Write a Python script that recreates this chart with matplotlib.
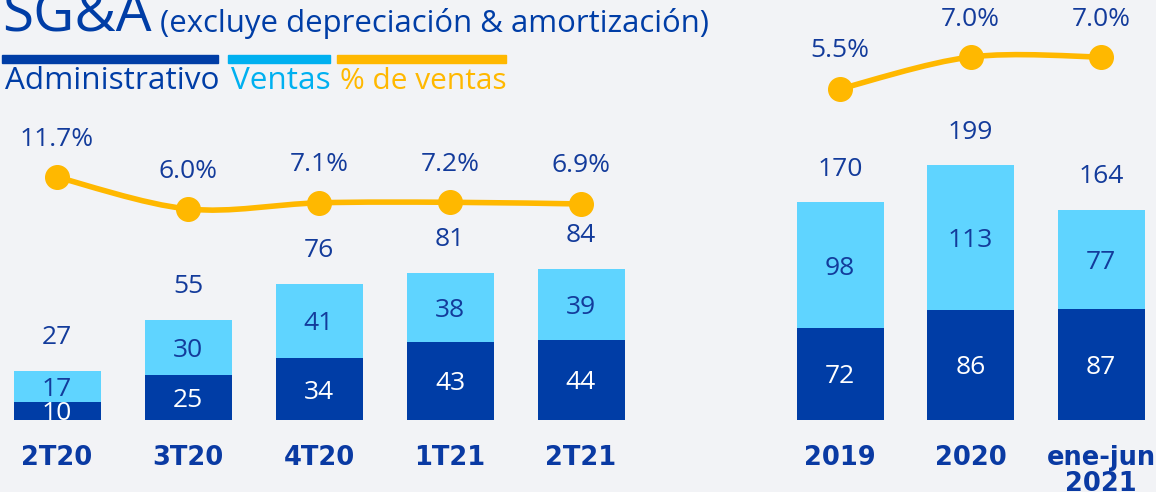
import matplotlib
matplotlib.use("Agg")
import matplotlib.pyplot as plt
from matplotlib.path import Path
from matplotlib.patches import PathPatch, Rectangle
import numpy as np

# ---- data ----
q_labels = ["2T20", "3T20", "4T20", "1T21", "2T21"]
q_admin = [10, 25, 34, 43, 44]
q_ventas = [17, 30, 41, 38, 39]
q_total = [27, 55, 76, 81, 84]
q_pct = [11.7, 6.0, 7.1, 7.2, 6.9]

y_labels = ["2019", "2020", "ene-jun\n2021"]
y_admin = [72, 86, 87]
y_ventas = [98, 113, 77]
y_total = [170, 199, 164]
y_pct = [5.5, 7.0, 7.0]

DARK = "#003DA6"
LIGHT = "#5FD4FF"
ORANGE = "#FFB800"
TXT = "#133B9B"
CAT = "#0A3AA3"
CYAN = "#00B0F0"
BG = "#F2F3F6"
FONT = "Open Sans"
BOLD = "DejaVu Sans"

W, H = 1156, 492
fig = plt.figure(figsize=(W / 100, H / 100), dpi=100)
fig.patch.set_facecolor(BG)
renderer = fig.canvas.get_renderer()


def smooth_path(xs, ys):
    xs = np.asarray(xs, float)
    ys = np.asarray(ys, float)
    n = len(xs)
    verts = [(xs[0], ys[0])]
    codes = [Path.MOVETO]
    for i in range(n - 1):
        p0 = np.array([xs[max(i - 1, 0)], ys[max(i - 1, 0)]])
        p1 = np.array([xs[i], ys[i]])
        p2 = np.array([xs[i + 1], ys[i + 1]])
        p3 = np.array([xs[min(i + 2, n - 1)], ys[min(i + 2, n - 1)]])
        c1 = p1 + (p2 - p0) / 6.0
        c2 = p2 - (p3 - p1) / 6.0
        verts += [tuple(c1), tuple(c2), tuple(p2)]
        codes += [Path.CURVE4] * 3
    return Path(verts, codes)


def fit_width(t, target_px):
    w = t.get_window_extent(renderer).width
    t.set_fontsize(t.get_fontsize() * target_px / w)


VS = 19  # value label font size


def panel(px_left, px_width, first_center, spacing, bar_px_per_unit, top_px,
          line_ref_val, line_ref_px, line_px_per_unit,
          labels, admin, ventas, total, pct):
    bottom_px = 420
    ax = fig.add_axes([px_left / W, (H - bottom_px) / H, px_width / W, (bottom_px - top_px) / H])
    ax.set_facecolor("none")
    xmin = -(first_center - px_left) / spacing
    xmax = xmin + px_width / spacing
    ax.set_xlim(xmin, xmax)
    ax.set_ylim(0, (bottom_px - top_px) / bar_px_per_unit)
    x = np.arange(len(labels))
    bw = 87 / spacing
    ax.bar(x, admin, width=bw, color=DARK, zorder=2)
    ax.bar(x, ventas, bottom=admin, width=bw, color=LIGHT, zorder=2)
    for i in range(len(labels)):
        ax.text(x[i], admin[i] / 2, str(admin[i]), ha="center", va="center_baseline",
                color="white", fontsize=VS, family=FONT, zorder=3)
        ax.text(x[i], admin[i] + ventas[i] / 2, str(ventas[i]), ha="center", va="center_baseline",
                color=TXT, fontsize=VS, family=FONT, zorder=3)
        ax.annotate(str(total[i]), (x[i], admin[i] + ventas[i]), xytext=(0, 26),
                    textcoords="offset points", ha="center", va="center_baseline",
                    color=TXT, fontsize=VS, family=FONT)
        ax.annotate(labels[i], (x[i], 0), xytext=(0, -18), textcoords="offset points",
                    ha="center", va="top", color=CAT, fontsize=18.5, family=BOLD,
                    fontweight="bold", linespacing=1.0, annotation_clip=False)
    ax.axis("off")

    ax2 = ax.twinx()
    ax2.set_xlim(xmin, xmax)
    lo = line_ref_val - (bottom_px - line_ref_px) / line_px_per_unit
    hi = line_ref_val + (line_ref_px - top_px) / line_px_per_unit
    ax2.set_ylim(lo, hi)
    ax2.add_patch(PathPatch(smooth_path(x, pct), facecolor="none", edgecolor=ORANGE,
                            lw=4, capstyle="round", zorder=4))
    ax2.plot(x, pct, "o", color=ORANGE, markersize=17, zorder=5)
    for i in range(len(labels)):
        ax2.annotate(f"{pct[i]:.1f}%", (x[i], pct[i]), xytext=(0, 29.5),
                     textcoords="offset points", ha="center", va="center_baseline",
                     color=TXT, fontsize=VS, family=FONT)
    ax2.axis("off")


panel(0, 640, 57, 131, 1.82, 0, 6.0, 209, 5.6,
      q_labels, q_admin, q_ventas, q_total, q_pct)
panel(780, 376, 840, 130.5, 1.28, 0, 7.0, 57, 21.3,
      y_labels, y_admin, y_ventas, y_total, y_pct)

# title
t1 = fig.text(2 / W, 1 - 32 / H, "SG&A", fontsize=36, color=DARK, family=FONT,
              ha="left", va="baseline")
fit_width(t1, 149)
t2 = fig.text(160 / W, 1 - 32 / H, "(excluye depreciación & amortización)", fontsize=20,
              color=DARK, family=FONT, ha="left", va="baseline")
fit_width(t2, 549)

# legend bars and labels
for x0, x1, c, txt, tc in [(2, 218, DARK, "Administrativo", DARK),
                           (228, 330, CYAN, "Ventas", CYAN),
                           (337, 506, ORANGE, "% de ventas", ORANGE)]:
    fig.add_artist(Rectangle((x0 / W, 1 - 63 / H), (x1 - x0) / W, 8 / H,
                             transform=fig.transFigure, color=c))
    t = fig.text((x0 + 3) / W, 1 - 89 / H, txt, fontsize=20, color=tc, family=FONT,
                 ha="left", va="baseline")
    fit_width(t, x1 - x0 - 3)

fig.savefig("out.png", dpi=100, facecolor=BG)
